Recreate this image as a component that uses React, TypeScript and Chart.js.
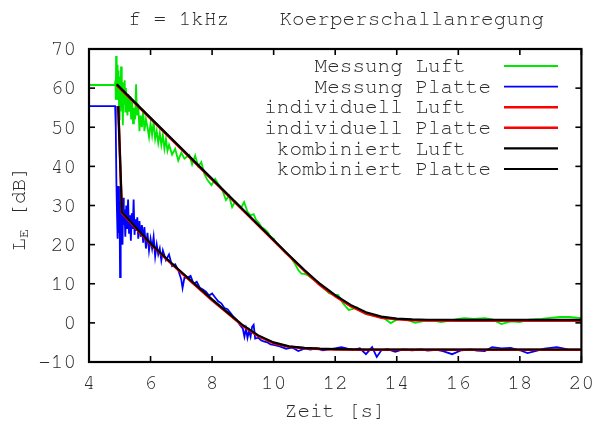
import React, { useEffect, useRef } from "react";
import { Chart, registerables } from "chart.js";

Chart.register(...registerables);

const TITLE = "f = 1kHz    Koerperschallanregung";
const X_TITLE = "Zeit [s]";
const X_TICKS = [4, 6, 8, 10, 12, 14, 16, 18, 20];
const Y_TICKS = [-10, 0, 10, 20, 30, 40, 50, 60, 70];

const LABELS = [
  "Messung Luft",
  "Messung Platte",
  "individuell Luft",
  "individuell Platte",
  "kombiniert Luft",
  "kombiniert Platte",
];

// Messung Luft (green)
const luftMessT = [
  4.0, 4.84, 4.86, 4.87, 4.88, 4.9, 4.91, 4.92, 4.94, 4.95, 4.96, 4.98, 4.99, 5.0, 5.02, 5.03, 5.04, 5.06, 5.07, 5.08,
  5.1, 5.11, 5.12, 5.14, 5.16, 5.18, 5.2, 5.22, 5.25, 5.28, 5.31, 5.34, 5.37, 5.4, 5.43, 5.46, 5.5, 5.53, 5.56, 5.6,
  5.64, 5.68, 5.72, 5.76, 5.8, 5.85, 5.9, 5.95, 6.0, 6.05, 6.1, 6.15, 6.2, 6.25, 6.3, 6.35, 6.4, 6.45, 6.5, 6.55,
  6.6, 6.7, 6.8, 6.9, 7.0, 7.1, 7.26, 7.35, 7.45, 7.55, 7.65, 7.75, 7.85, 7.98, 8.1, 8.2, 8.33, 8.45, 8.55, 8.65,
  8.75, 8.85, 8.95, 9.04, 9.15, 9.25, 9.35, 9.43, 9.52, 9.6, 9.7, 9.8, 9.9, 10.0, 10.1, 10.2, 10.3, 10.4, 10.5, 10.6,
  10.7, 10.8, 10.9, 11.0, 11.1, 11.2, 11.3, 11.45, 11.6, 11.8, 11.95, 12.1, 12.25, 12.44, 12.55, 12.7, 12.85, 13.0, 13.2, 13.4,
  13.6, 13.8, 14.05, 14.3, 14.6, 14.9, 15.2, 15.44, 15.7, 16.0, 16.2, 16.5, 16.86, 17.1, 17.4, 17.7, 18.0, 18.3, 18.7, 19.0,
  19.3, 19.6, 20.0,
];
const luftMessV = [
  60.8, 60.8, 62, 57, 68.2, 60, 64, 66, 57, 61, 64.5, 52, 58, 63, 58, 54, 65.5, 55, 59, 61.5,
  50.5, 56, 59, 56, 62, 54, 60, 56.5, 53, 58.5, 54, 58, 52, 56.5, 51, 55, 52, 61, 53, 56,
  49, 53, 50, 54.5, 49, 52, 50, 47.5, 51, 48, 51.5, 47, 49, 46, 48.5, 45.5, 48, 44.5, 47, 44,
  45.5, 43, 44.5, 41.5, 43.5, 42, 42.9, 40.5, 42.8, 40, 41.1, 38, 36.5, 35.2, 36.8, 35.5, 34, 31.4, 32.5, 29.6,
  31, 30.2, 29.5, 30.9, 28.4, 27.5, 27.8, 26.3, 25.6, 24.5, 24, 23.3, 22, 21.5, 20.3, 19.5, 18.6, 17.8, 17.2, 16.2,
  15, 13.5, 12.6, 12.5, 12.2, 11.6, 11, 10.4, 9, 7.6, 7.2, 7.1, 5, 3.3, 3.5, 4, 2.9, 2.2, 1.9, 1.6,
  1.1, -0.05, 1, 0.9, 0, 0.5, 0.6, 0.2, 0.5, 1, 1.2, 1, 1.2, 0.9, -0.3, 0.4, 0.2, 0.8, 1, 1.3,
  1.5, 1.5, 1.2,
];

// Messung Platte (blue)
const platteMessT = [
  4.0, 4.85, 4.87, 4.89, 4.91, 4.93, 4.95, 4.97, 4.99, 5.01, 5.03, 5.05, 5.07, 5.09, 5.11, 5.13, 5.15, 5.18, 5.21, 5.24,
  5.27, 5.3, 5.33, 5.36, 5.39, 5.42, 5.45, 5.48, 5.51, 5.54, 5.57, 5.6, 5.64, 5.68, 5.72, 5.76, 5.8, 5.85, 5.9, 5.95,
  6.0, 6.05, 6.1, 6.15, 6.2, 6.25, 6.3, 6.35, 6.4, 6.5, 6.6, 6.7, 6.8, 6.9, 7.0, 7.04, 7.1, 7.2, 7.3, 7.4,
  7.5, 7.6, 7.7, 7.8, 7.9, 8.0, 8.1, 8.2, 8.3, 8.4, 8.5, 8.6, 8.7, 8.8, 8.9, 9.0, 9.05, 9.1, 9.15, 9.2,
  9.25, 9.3, 9.35, 9.4, 9.5, 9.6, 9.7, 9.8, 9.9, 10.0, 10.2, 10.4, 10.6, 10.8, 11.0, 11.2, 11.4, 11.6, 11.8, 12.0,
  12.2, 12.4, 12.6, 12.8, 13.0, 13.2, 13.35, 13.5, 13.7, 13.95, 14.2, 14.5, 14.8, 15.0, 15.3, 15.5, 15.8, 16.1, 16.4, 16.6,
  16.86, 17.1, 17.4, 17.7, 18.0, 18.25, 18.5, 18.8, 19.0, 19.2, 19.4, 19.6,
];
const platteMessV = [
  55.4, 55.4, 50, 36, 28, 21.5, 35, 23, 31, 11.7, 34.7, 22, 30, 20, 32, 25, 29, 22, 30, 24,
  31.5, 23, 27.5, 21, 28, 24, 31.5, 22.5, 26.5, 23.5, 27, 21.5, 26, 22, 25, 20.5, 24.5, 19, 23, 18.5,
  21.5, 19, 22, 17, 20, 17.5, 19, 16, 18.5, 16, 17.5, 14.5, 15, 13.5, 11, 8.9, 11.5, 11.5, 12, 10,
  10.5, 9, 8.5, 8, 7, 7.5, 6.5, 5.5, 5, 3.8, 3.5, 2.5, 1.5, 0.8, -0.5, -1.5, -3.5, -1.5, -3.8, -2,
  -3.5, -1, -0.5, -4, -3.8, -4.5, -4.8, -5, -5.5, -5.6, -6, -6.6, -6.3, -7.2, -6.6, -6.8, -6.5, -7, -6.8, -6.5,
  -6.2, -6.6, -6.9, -6.5, -8, -6.2, -8.7, -7, -6.7, -7.4, -6.8, -7, -6.8, -7.1, -6.9, -7.2, -8, -7, -6.8, -7.1,
  -7.2, -6.2, -6.5, -6.4, -7, -7.7, -7.2, -6.6, -6.4, -6.2, -6.5, -6.9,
];

// Fits Luft
const luftFitT = [4.9, 5.5, 6, 7, 8, 9, 10, 10.5, 11, 11.5, 12, 12.5, 13, 13.5, 14, 14.5, 15, 16, 18, 20];
const luftIndivV = [60.8, 56.1, 52.2, 44.4, 36.6, 28.8, 21, 17.1, 13.3, 9.7, 6.8, 4.3, 2.4, 1.3, 0.9, 0.7, 0.6, 0.55, 0.55, 0.55];
const luftKombV = [61, 56.3, 52.4, 44.6, 36.8, 29, 21.2, 17.3, 13.5, 10, 7.1, 4.6, 2.7, 1.6, 1.1, 0.9, 0.8, 0.75, 0.75, 0.75];

// Fits Platte
const platteFitT = [4.95, 5.07, 5.5, 6, 6.5, 7, 7.5, 8, 8.5, 9, 9.5, 10, 10.5, 11, 11.5, 12, 13, 14, 16, 20];
const platteIndivV = [55.4, 28.1, 24.4, 20.1, 16.4, 12.8, 9.3, 5.8, 2.5, -0.8, -3.4, -5.2, -6.1, -6.5, -6.7, -6.8, -6.9, -6.9, -6.9, -6.9];
const platteKombV = [55.4, 28.3, 24.6, 20.3, 16.6, 13, 9.5, 6.0, 2.7, -0.6, -3.2, -5.0, -6.0, -6.4, -6.6, -6.7, -6.8, -6.8, -6.8, -6.8];

const COLORS = ["#00e800", "#0000ff", "#ff0000", "#ff0000", "#000000", "#000000"];
const WIDTHS = [1.8, 1.8, 2.5, 2.5, 2.2, 2.2];

const FONT_FAMILY = "'Nimbus Mono PS', 'Nimbus Mono L', FreeMono, 'Courier New', Courier, 'Liberation Mono', monospace";
const FS = 21;
const TEXT_COLOR = "#2a2a2a";

const zip = (t: number[], v: number[]) => t.map((x, i) => ({ x, y: v[i] }));

const decor = {
  id: "decor",
  afterDatasetsDraw(chart: any) {
    const { ctx, chartArea, scales } = chart;
    const { left, right, top, bottom } = chartArea;
    const xs = scales.x;
    const ys = scales.y;
    ctx.save();
    ctx.strokeStyle = "#000";
    ctx.lineWidth = 1.6;
    const seg = (x1: number, y1: number, x2: number, y2: number) => {
      ctx.beginPath();
      ctx.moveTo(x1, y1);
      ctx.lineTo(x2, y2);
      ctx.stroke();
    };
    const TL = 6;
    X_TICKS.forEach((v) => {
      const px = xs.getPixelForValue(v);
      seg(px, bottom, px, bottom - TL);
      seg(px, top, px, top + TL);
    });
    Y_TICKS.forEach((v) => {
      const py = ys.getPixelForValue(v);
      seg(left, py, left + TL, py);
      seg(right, py, right - TL, py);
    });
    ctx.lineWidth = 2.2;
    ctx.strokeRect(left, top, right - left, bottom - top);

    ctx.fillStyle = TEXT_COLOR;
    ctx.font = `${FS}px ${FONT_FAMILY}`;
    ctx.textBaseline = "middle";
    ctx.textAlign = "center";
    ctx.fillText(TITLE, (left + right) / 2 + 1, 19);
    ctx.fillText(X_TITLE, (left + right) / 2, 411);

    // y title with subscript
    ctx.save();
    ctx.translate(19, (top + bottom) / 2 + 3);
    ctx.rotate(-Math.PI / 2);
    const mainF = `${FS}px ${FONT_FAMILY}`;
    const subF = `${FS * 0.7}px ${FONT_FAMILY}`;
    ctx.font = mainF;
    const wL = ctx.measureText("L").width;
    const wRest = ctx.measureText(" [dB]").width;
    ctx.font = subF;
    const wE = ctx.measureText("E").width;
    const total = wL + wE + wRest;
    let cx = -total / 2;
    ctx.textAlign = "left";
    ctx.font = mainF;
    ctx.fillText("L", cx, 0);
    cx += wL;
    ctx.font = subF;
    ctx.fillText("E", cx, 5);
    cx += wE;
    ctx.font = mainF;
    ctx.fillText(" [dB]", cx, 0);
    ctx.restore();

    // legend
    ctx.font = `${FS}px ${FONT_FAMILY}`;
    ctx.textAlign = "right";
    chart.data.datasets.forEach((ds: any, i: number) => {
      const yy = 66 + i * 20.6;
      const lbl = ds.label.endsWith("Luft") ? ds.label + "  " : ds.label;
      ctx.fillStyle = TEXT_COLOR;
      ctx.fillText(lbl, 491, yy);
      ctx.strokeStyle = ds.borderColor;
      ctx.lineWidth = ds.borderWidth;
      seg(504, yy, 558, yy);
    });
    ctx.restore();
  },
};

export default function App() {
  const ref = useRef<HTMLCanvasElement | null>(null);
  useEffect(() => {
    document.body.style.margin = "0";
    const canvas = ref.current!;
    const series = [
      zip(luftMessT, luftMessV),
      zip(platteMessT, platteMessV),
      zip(luftFitT, luftIndivV),
      zip(platteFitT, platteIndivV),
      zip(luftFitT, luftKombV),
      zip(platteFitT, platteKombV),
    ];
    const chart = new Chart(canvas, {
      type: "line",
      data: {
        datasets: series.map((d, i) => ({
          label: LABELS[i],
          data: d,
          borderColor: COLORS[i],
          backgroundColor: COLORS[i],
          borderWidth: WIDTHS[i],
          pointRadius: 0,
          tension: 0,
          fill: false,
          order: 6 - i,
        })),
      },
      options: {
        animation: false,
        responsive: false,
        maintainAspectRatio: false,
        parsing: false as any,
        layout: { padding: { left: 0, right: 18, top: 49, bottom: 0 } },
        plugins: {
          legend: { display: false },
          tooltip: { enabled: false },
          title: { display: false },
        },
        scales: {
          x: {
            type: "linear",
            min: 4,
            max: 20,
            afterBuildTicks: (s: any) => {
              s.ticks = X_TICKS.map((v) => ({ value: v }));
            },
            ticks: {
              font: { family: FONT_FAMILY, size: FS },
              color: TEXT_COLOR,
              padding: 8,
              maxRotation: 0,
              autoSkip: false,
            },
            grid: { display: false, drawTicks: false },
            border: { display: false },
            afterFit: (s: any) => {
              s.height = 61;
            },
          },
          y: {
            type: "linear",
            min: -10,
            max: 70,
            afterBuildTicks: (s: any) => {
              s.ticks = Y_TICKS.map((v) => ({ value: v }));
            },
            ticks: {
              font: { family: FONT_FAMILY, size: FS },
              color: TEXT_COLOR,
              padding: 13,
              autoSkip: false,
            },
            grid: { display: false, drawTicks: false },
            border: { display: false },
            afterFit: (s: any) => {
              s.width = 89;
            },
          },
        },
      },
      plugins: [decor],
    });
    return () => chart.destroy();
  }, []);
  return <canvas ref={ref} width={602} height={423} style={{ display: "block", width: 602, height: 423 }} />;
}
